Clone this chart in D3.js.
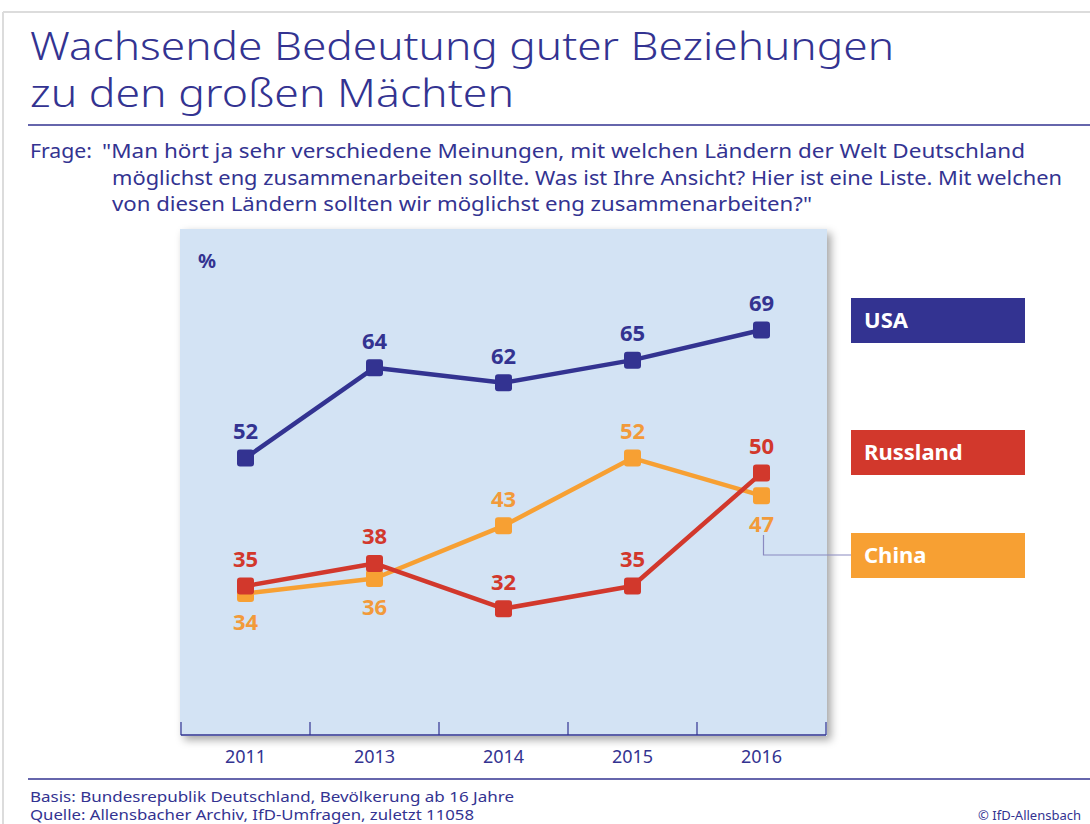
<!DOCTYPE html>
<html><head><meta charset="utf-8">
<script src="https://cdn.jsdelivr.net/npm/d3@7"></script>
<style>
body{margin:0;background:#fff;}
svg{display:block;font-family:"Noto Sans",sans-serif;}
</style></head>
<body>
<svg id="chart" width="1090" height="824"></svg>
<script>
const years = ["2011","2013","2014","2015","2016"];
const usa = [52,64,62,65,69];
const russland = [35,38,32,35,50];
const china = [34,36,43,52,47];
const seriesNames = ["USA","Russland","China"];
const seriesColors = ["#333391","#d2382c","#f7a033"];
const labelColors = ["#333391","#d2382c","#f29a3a"];
// label placement: -1 above, +1 below
const chinaLabelPos = [1,1,-1,-1,1];
const titleLines = ["Wachsende Bedeutung guter Beziehungen","zu den großen Mächten"];
const questionLines = ["\"Man hört ja sehr verschiedene Meinungen, mit welchen Ländern der Welt Deutschland",
 "möglichst eng zusammenarbeiten sollte. Was ist Ihre Ansicht? Hier ist eine Liste. Mit welchen",
 "von diesen Ländern sollten wir möglichst eng zusammenarbeiten?\""];
const footerLines = ["Basis: Bundesrepublik Deutschland, Bevölkerung ab 16 Jahre","Quelle: Allensbacher Archiv, IfD-Umfragen, zuletzt 11058"];

const svg = d3.select("#chart");
const navy = "#333391";

// defs: shadow
const defs = svg.append("defs");
const f = defs.append("filter").attr("id","sh").attr("x","-5%").attr("y","-5%").attr("width","115%").attr("height","115%");
f.append("feDropShadow").attr("dx",4).attr("dy",4).attr("stdDeviation",4).attr("flood-color","#000").attr("flood-opacity",0.35);

// outer frame
svg.append("line").attr("x1",3).attr("x2",1090).attr("y1",12).attr("y2",12).attr("stroke","#dcdcdc").attr("stroke-width",2);
svg.append("line").attr("x1",3).attr("x2",3).attr("y1",12).attr("y2",824).attr("stroke","#dcdcdc").attr("stroke-width",2);

// title
const titleW = [864, 484];
titleLines.forEach((t,i)=>{
  svg.append("text").attr("x",30).attr("y",60+i*47).attr("fill",navy)
    .attr("font-size",38).attr("font-weight",300)
    .attr("textLength",titleW[i]).attr("lengthAdjust","spacingAndGlyphs").text(t);
});
svg.append("line").attr("x1",28).attr("x2",1090).attr("y1",125).attr("y2",125).attr("stroke",navy).attr("stroke-width",1.5);

// question
svg.append("text").attr("x",30).attr("y",158).attr("fill",navy).attr("font-size",20)
  .attr("textLength",62).attr("lengthAdjust","spacingAndGlyphs").text("Frage:");
const qx = [102,112,112], qw=[923,950,700];
questionLines.forEach((t,i)=>{
  svg.append("text").attr("x",qx[i]).attr("y",158+i*26.5).attr("fill",navy).attr("font-size",20)
   .attr("textLength",qw[i]).attr("lengthAdjust","spacingAndGlyphs").text(t);
});

// panel
const px0=180, px1=827, py0=229, py1=736;
svg.append("rect").attr("x",px0).attr("y",py0).attr("width",px1-px0).attr("height",py1-py0)
  .attr("fill","#d3e3f4").attr("filter","url(#sh)");

const x = d3.scaleBand().domain(years).range([181,826]).padding(0);
const y = d3.scaleLinear().domain([0,100]).range([849.6,96.6]);

// axis: band boundaries as ticks
const bounds = [x.range()[0]].concat(years.map(d=>x(d)+x.bandwidth()));
svg.append("line").attr("x1",181).attr("x2",826).attr("y1",735).attr("y2",735).attr("stroke",navy).attr("stroke-width",1.5);
svg.selectAll(".tk").data(bounds).join("line").attr("class","tk")
  .attr("x1",d=>d).attr("x2",d=>d).attr("y1",722).attr("y2",735).attr("stroke",navy).attr("stroke-width",1.2);
svg.selectAll(".yl").data(years).join("text").attr("class","yl")
  .attr("x",d=>x(d)+x.bandwidth()/2).attr("y",763).attr("text-anchor","middle")
  .attr("fill",navy).attr("font-size",18).text(d=>d);

svg.append("text").attr("x",198).attr("y",268).attr("fill",navy).attr("font-size",20).attr("font-weight",700).text("%");

const cx = d => x(d)+x.bandwidth()/2;
const line = d3.line().x(d=>cx(d.year)).y(d=>y(d.v));
const all = [usa,russland,china];
[2,1,0].forEach(si=>{
  const data = years.map((yr,i)=>({year:yr,v:all[si][i]}));
  const g = svg.append("g");
  g.append("path").datum(data).attr("d",line).attr("fill","none").attr("stroke",seriesColors[si]).attr("stroke-width",4.5).attr("stroke-linejoin","round");
  g.selectAll("rect").data(data).join("rect")
    .attr("x",d=>cx(d.year)-8.5).attr("y",d=>y(d.v)-8.5).attr("width",17).attr("height",17).attr("rx",3)
    .attr("fill",seriesColors[si]);
});
all.forEach((arr,si)=>{
  const data = years.map((yr,i)=>({year:yr,v:arr[i],pos: si===2?chinaLabelPos[i]:-1}));
  svg.append("g").selectAll("text").data(data).join("text")
    .attr("x",d=>cx(d.year)).attr("y",d=>d.pos<0? y(d.v)-19 : y(d.v)+36)
    .attr("text-anchor","middle").attr("fill",labelColors[si]).attr("font-size",22).attr("font-weight",700)
    .text(d=>d.v);
});

// legend boxes
const legY = [298,430,533];
seriesNames.forEach((n,i)=>{
  svg.append("rect").attr("x",851).attr("y",legY[i]).attr("width",174).attr("height",45).attr("fill",seriesColors[i]);
  svg.append("text").attr("x",864).attr("y",legY[i]+30).attr("fill","#fff").attr("font-size",22).attr("font-weight",700).text(n);
});
// connector for China
svg.append("path").attr("d",`M${cx("2016")+2},535 V555 H851`).attr("fill","none").attr("stroke","#8a8ac0").attr("stroke-width",1.2);

// footer
svg.append("line").attr("x1",28).attr("x2",1090).attr("y1",779).attr("y2",779).attr("stroke",navy).attr("stroke-width",1.5);
const fw=[484,444];
footerLines.forEach((t,i)=>{
  svg.append("text").attr("x",30).attr("y",802+i*18).attr("fill",navy).attr("font-size",15)
   .attr("textLength",fw[i]).attr("lengthAdjust","spacingAndGlyphs").text(t);
});
svg.append("text").attr("x",1081).attr("y",820).attr("text-anchor","end").attr("fill",navy).attr("font-size",13).text("© IfD-Allensbach");
</script>
</body></html>
